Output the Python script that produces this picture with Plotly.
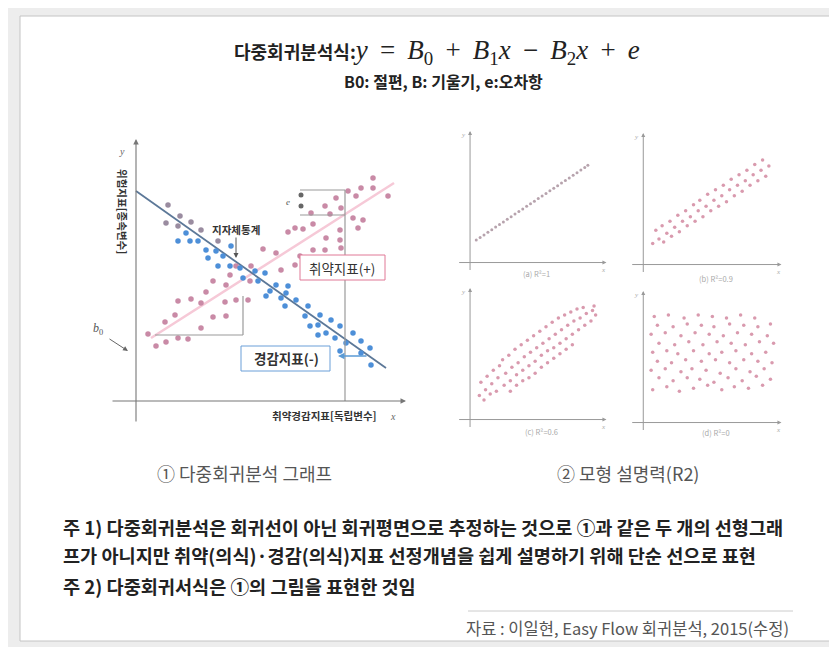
import plotly.graph_objects as go

W, H = 837, 647
def px(x): return x / W
def py(y): return 1 - y / H

KR = "Noto Sans CJK KR"
SERIF = "Liberation Serif"

# ---------------- Left chart data (units) ----------------
blue_x = [50, 42, 54, 62, 70, 80, 72, 87, 95, 82, 94, 104, 107, 119, 129, 122, 140, 134, 130, 150, 145,
          160, 152, 149, 172, 169, 184, 182, 174, 195, 204, 190, 182, 199, 217, 210, 225, 234, 204, 225, 235]
blue_y = [168, 160, 160, 160, 151, 150, 143, 145, 155, 135, 135, 133, 123, 130, 128, 120, 116, 110, 105, 108, 103,
          101, 115, 95, 95, 85, 86, 76, 75, 81, 75, 68, 66, 63, 68, 58, 60, 53, 50, 48, 36]
pink_x = [12, 20, 30, 42, 52, 29, 39, 65, 77, 90, 42, 55, 65, 89, 100, 112, 70, 77, 90, 94, 114, 100, 115, 127,
          140, 145, 159, 152, 164, 177, 189, 205, 204, 190, 167, 177, 159, 204, 222, 217, 227, 175, 194, 189,
          205, 200, 220, 212, 225, 237, 237, 252]
pink_y = [67, 55, 59, 63, 62, 79, 86, 73, 84, 85, 100, 102, 98, 99, 101, 101, 109, 120, 116, 126, 120, 135, 135, 152,
          148, 131, 136, 169, 145, 151, 151, 153, 161, 163, 172, 177, 173, 171, 173, 183, 181, 188, 187, 195,
          193, 203, 205, 210, 213, 213, 223, 205]
gray_x = [32, 44, 30, 42, 55, 65, 82]
gray_y = [196, 185, 178, 175, 179, 171, 160]
eps_x = [165, 165]
eps_y = [206, 195]
blue_line_x = [0, 250]
blue_line_y = [210, 33]
pink_line_x = [15, 258]
pink_line_y = [63, 218]

# ---------------- Right panels data ----------------
a_x = [0.4, 0.65, 0.9, 1.15, 1.4, 1.65, 1.9, 2.15, 2.4, 2.65, 2.9, 3.15, 3.4, 3.65, 3.9, 4.15, 4.4, 4.65,
       4.9, 5.15, 5.4, 5.65, 5.9, 6.15, 6.4, 6.65, 6.9, 7.15, 7.4, 7.6]
a_y = [1.50, 1.67, 1.85, 2.02, 2.19, 2.37, 2.54, 2.71, 2.89, 3.06, 3.24, 3.41, 3.58, 3.76, 3.93, 4.10, 4.28, 4.45,
       4.62, 4.80, 4.97, 5.14, 5.32, 5.49, 5.66, 5.84, 6.01, 6.19, 6.36, 6.50]

b_x = [0.6, 0.8, 1.0, 1.2, 1.3, 1.5, 1.7, 1.8, 2.0, 2.2, 2.3, 2.5, 2.7, 2.8, 3.0, 3.2, 3.3, 3.5, 3.6, 3.8, 4.0,
       4.1, 4.3, 4.5, 4.6, 4.8, 5.0, 5.1, 5.3, 5.5, 5.6, 5.8, 6.0, 6.1, 6.3, 6.5, 6.6, 6.8, 7.0, 7.1, 7.3, 7.5,
       7.6, 7.8, 8.0]
b_y = [1.4, 2.3, 1.7, 2.6, 1.5, 2.1, 2.9, 1.9, 2.5, 3.3, 2.2, 2.9, 3.6, 2.6, 3.2, 4.0, 2.9, 3.6, 4.3, 3.2, 3.9,
       4.7, 3.6, 4.3, 5.0, 3.9, 4.6, 5.3, 4.2, 5.0, 5.7, 4.6, 5.3, 6.0, 4.9, 5.6, 6.3, 5.3, 6.0, 6.7, 5.6, 6.3,
       7.0, 5.9, 6.6]

c_x = [0.6, 0.7, 1.0, 1.1, 0.9, 1.4, 1.5, 1.3, 1.8, 1.9, 1.7, 2.2, 2.3, 2.1, 2.6, 2.7, 2.5, 2.6,
       3.0, 3.1, 2.9, 3.0, 3.4, 3.5, 3.3, 3.4, 3.8, 3.9, 3.7, 3.8, 4.2, 4.3, 4.1, 4.2, 4.6, 4.7, 4.5, 4.6,
       5.0, 5.1, 4.9, 5.0, 5.4, 5.5, 5.3, 5.4, 5.8, 5.9, 5.7, 5.8, 6.2, 6.3, 6.1, 6.2, 6.6, 6.7, 6.5, 6.6,
       7.0, 7.1, 6.9, 7.4, 7.5, 7.3, 7.8, 7.9, 8.1, 8.0]
c_y = [1.6, 2.5, 2.0, 2.9, 1.3, 2.4, 3.3, 1.7, 2.8, 3.6, 1.9, 2.3, 3.1, 4.0, 2.6, 3.5, 4.3, 1.9,
       3.0, 3.8, 4.7, 2.3, 3.3, 4.2, 5.0, 2.6, 3.6, 4.5, 5.3, 2.8, 3.9, 4.8, 5.6, 3.1, 4.3, 5.1, 5.9, 3.5,
       4.6, 5.4, 6.2, 3.8, 4.8, 5.7, 6.5, 4.1, 5.1, 6.0, 6.8, 4.4, 5.4, 6.3, 7.0, 4.7, 5.7, 6.6, 7.2, 5.0,
       6.0, 6.8, 7.4, 6.3, 7.1, 7.5, 6.6, 7.3, 7.0, 7.6]

d_x = [0.6, 1.5, 2.3, 3.2, 4.1, 5.0, 5.8, 6.7, 7.6,
       1.0, 1.9, 2.8, 3.6, 4.5, 5.4, 6.3, 7.2, 8.1,
       0.5, 1.4, 2.4, 3.1, 4.0, 4.9, 5.9, 6.8, 7.7,
       0.9, 1.8, 2.7, 3.7, 4.6, 5.5, 6.4, 7.3, 8.2,
       0.6, 1.5, 2.2, 3.2, 4.2, 5.0, 5.9, 6.9, 7.8,
       1.0, 2.0, 2.9, 3.8, 4.7, 5.6, 6.5, 7.4, 8.3,
       0.5, 1.4, 2.4, 3.3, 4.2, 5.1, 6.0, 6.9, 7.9,
       0.9, 1.9, 2.8, 3.7, 4.5, 5.5, 6.4, 7.3, 8.1,
       0.7, 1.6, 2.6, 3.5, 4.4, 5.3, 6.2, 7.1]
d_y = [2.2, 2.4, 2.1, 2.3, 2.5, 2.2, 2.4, 2.3, 2.5,
       3.0, 2.8, 3.0, 2.9, 2.7, 3.0, 2.8, 3.1, 2.9,
       3.5, 3.6, 3.4, 3.6, 3.5, 3.3, 3.6, 3.4, 3.6,
       4.1, 4.0, 4.2, 4.1, 4.2, 4.0, 4.2, 4.1, 4.0,
       4.7, 4.8, 4.6, 4.8, 4.6, 4.7, 4.8, 4.6, 4.7,
       5.3, 5.2, 5.4, 5.2, 5.4, 5.3, 5.2, 5.4, 5.3,
       5.9, 6.0, 5.8, 6.0, 5.9, 5.8, 6.0, 5.9, 5.8,
       6.5, 6.4, 6.6, 6.5, 6.4, 6.6, 6.5, 6.4, 6.6,
       7.1, 7.2, 7.0, 7.2, 7.1, 7.0, 7.2, 7.0]

panel_labels = ["(a) R²=1", "(b) R²=0.9", "(c) R²=0.6", "(d) R²=0"]

title_kr = "다중회귀분석식:"
subtitle = "B0: 절편, B: 기울기, e:오차항"
caption1 = "① 다중회귀분석 그래프"
caption2 = "② 모형 설명력(R2)"
note1a = "주 1) 다중회귀분석은 회귀선이 아닌 회귀평면으로 추정하는 것으로 ①과 같은 두 개의 선형그래"
note1b = "프가 아니지만 취약(의식)·경감(의식)지표 선정개념을 쉽게 설명하기 위해 단순 선으로 표현"
note2 = "주 2) 다중회귀서식은 ①의 그림을 표현한 것임"
source = "자료 : 이일현, Easy Flow 회귀분석, 2015(수정)"

fig = go.Figure()

# ---------------- Left chart traces ----------------
fig.add_trace(go.Scatter(x=pink_line_x, y=pink_line_y, mode="lines",
                         line=dict(color="#f6c9d7", width=2.5), xaxis="x", yaxis="y"))
fig.add_trace(go.Scatter(x=blue_line_x, y=blue_line_y, mode="lines",
                         line=dict(color="#5c7898", width=1.8), xaxis="x", yaxis="y"))
fig.add_trace(go.Scatter(x=pink_x, y=pink_y, mode="markers",
                         marker=dict(color="#c98aa6", size=5.5), xaxis="x", yaxis="y"))
fig.add_trace(go.Scatter(x=gray_x, y=gray_y, mode="markers",
                         marker=dict(color="#9a8ca0", size=5.5), xaxis="x", yaxis="y"))
fig.add_trace(go.Scatter(x=blue_x, y=blue_y, mode="markers",
                         marker=dict(color="#4d8fd8", size=5.5), xaxis="x", yaxis="y"))
fig.add_trace(go.Scatter(x=eps_x, y=eps_y, mode="markers",
                         marker=dict(color="#666666", size=5), xaxis="x", yaxis="y"))

# ---------------- Right panels traces ----------------
fig.add_trace(go.Scatter(x=a_x, y=a_y, mode="markers", marker=dict(color="#b7a3ad", size=3),
                         xaxis="x2", yaxis="y2"))
fig.add_trace(go.Scatter(x=b_x, y=b_y, mode="markers", marker=dict(color="#d99aae", size=3.5),
                         xaxis="x3", yaxis="y3"))
fig.add_trace(go.Scatter(x=c_x, y=c_y, mode="markers", marker=dict(color="#d99aae", size=3.5),
                         xaxis="x4", yaxis="y4"))
fig.add_trace(go.Scatter(x=d_x, y=d_y, mode="markers", marker=dict(color="#d99aae", size=3.5),
                         xaxis="x5", yaxis="y5"))

hidden = dict(showgrid=False, zeroline=False, showticklabels=False, showline=False, ticks="",
              fixedrange=True)

layout = dict(
    width=W, height=H, margin=dict(l=0, r=0, t=0, b=0),
    showlegend=False, paper_bgcolor="#ededed", plot_bgcolor="rgba(0,0,0,0)",
    xaxis=dict(domain=[px(75), px(400)], range=[-53, 272], **hidden),
    yaxis=dict(domain=[py(420), py(125)], range=[-27, 268], **hidden),
)
panels = [  # (x-domain px, y-domain py)
    ((445, 600), (120, 265)),
    ((618, 775), (122, 267)),
    ((445, 600), (277, 422)),
    ((618, 775), (280, 425)),
]
for i, (xd, yd) in enumerate(panels, start=2):
    layout[f"xaxis{i}"] = dict(domain=[px(xd[0]), px(xd[1])], range=[-1.1, 8.9], anchor=f"y{i}", **hidden)
    layout[f"yaxis{i}"] = dict(domain=[py(yd[1]), py(yd[0])], range=[-0.7, 9.0], anchor=f"x{i}", **hidden)
fig.update_layout(**layout)

shapes = []
annos = []

# frame
shapes.append(dict(type="rect", xref="paper", yref="paper", x0=px(12), x1=px(826), y0=py(633), y1=py(8),
                   fillcolor="white", line=dict(color="#c4c4c4", width=1), layer="below"))

def arrow(x, y, ax, ay, xr, yr, color="#777", width=1.1, head=2, size=1):
    annos.append(dict(x=x, y=y, ax=ax, ay=ay, xref=xr, yref=yr, axref=xr, ayref=yr, text="",
                      showarrow=True, arrowhead=head, arrowsize=size, arrowwidth=width, arrowcolor=color))

def seg(x0, y0, x1, y1, xr="x", yr="y", color="#9a9a9a", width=1.2):
    shapes.append(dict(type="line", xref=xr, yref=yr, x0=x0, y0=y0, x1=x1, y1=y1,
                       line=dict(color=color, width=width)))

def text(t, x, y, size, color="#333", xr="paper", yr="paper", xanchor="center", family=KR, angle=0,
         weight=None):
    f = dict(size=size, color=color, family=family)
    if weight:
        f["weight"] = weight
    annos.append(dict(text=t, x=x, y=y, xref=xr, yref=yr, showarrow=False, xanchor=xanchor,
                      yanchor="middle", font=f, textangle=angle))

# left chart axes
arrow(0, 262, 0, -22, "x", "y")
arrow(270, 0, -25, 0, "x", "y")
# bracket / helper lines
seg(19, 66, 107, 66)
seg(107, 66, 107, 105)
seg(164, 211, 209, 211)
seg(164, 186, 209, 186)
seg(209, 211, 209, 0)
# boxes
shapes.append(dict(type="rect", xref="x", yref="y", x0=164, x1=249, y0=121, y1=146,
                   fillcolor="white", line=dict(color="#e07896", width=1), layer="above"))
shapes.append(dict(type="rect", xref="x", yref="y", x0=105, x1=194, y0=30, y1=55,
                   fillcolor="white", line=dict(color="#6a9fd8", width=1), layer="above"))
text("취약지표(+)", 206, 133, 13.5, xr="x", yr="y")
text("경감지표(-)", 150, 43, 13.5, xr="x", yr="y", weight="bold")
arrow(202, 45, 232, 45, "x", "y", color="#5b9bd5", width=1.3)
text("지자체통계", 100, 172, 10.5, xr="x", yr="y", weight="bold")
arrow(100, 143, 100, 165, "x", "y", color="#555", width=1)
arrow(-8, 50, -28, 63, "x", "y", color="#666", width=1)
text("<i>b</i><sub>0</sub>", -38, 72, 12, color="#555", xr="x", yr="y", family=SERIF)
text("<i>e</i>", 152, 199, 9, color="#555", xr="x", yr="y", family=SERIF)
text("<i>y</i>", -14, 250, 10, color="#666", xr="x", yr="y", family=SERIF)
text("위험지표[종속변수]", -13, 190, 10.5, xr="x", yr="y", angle=90, weight="bold")
text("취약경감지표[독립변수]", 188, -14, 10.5, xr="x", yr="y", weight="bold")
text("<i>x</i>", 257, -15, 10, color="#666", xr="x", yr="y", family=SERIF)

# right panels axes and labels
label_pos = [(528, 265), (708, 270), (533, 423), (708, 425)]
for i in range(2, 6):
    xr, yr = f"x{i}", f"y{i}"
    arrow(0, 8.8, 0, -0.6, xr, yr, color="#999", width=1, size=0.8)
    arrow(8.8, 0, -0.8, 0, xr, yr, color="#999", width=1, size=0.8)
    text("<i>y</i>", -0.45, 8.5, 7, color="#aaa", xr=xr, yr=yr, family=SERIF)
    text("<i>x</i>", 8.6, -0.5, 7, color="#aaa", xr=xr, yr=yr, family=SERIF)
    lx, ly = label_pos[i - 2]
    text(panel_labels[i - 2], px(lx), py(ly), 7.5, color="#aaaaaa")

# ---------------- Header (one annotation: Korean label + formula) ----------------
ts = "\u2009"
formula = (f"<i>y</i>{ts} = {ts}<i>B</i><sub>0</sub>{ts} + {ts}<i>B</i><sub>1</sub><i>x</i>{ts} − {ts}"
           f"<i>B</i><sub>2</sub><i>x</i>{ts} + {ts}<i>e</i>")
header = (f'<span style="font-family:\'{KR}\';font-size:18px;font-weight:bold">{title_kr}</span>'
          f'{formula}')
annos.append(dict(text=header, x=px(429), y=py(44), xref="paper", yref="paper", showarrow=False,
                  xanchor="center", yanchor="middle", font=dict(size=27, color="#222", family=SERIF)))
text(subtitle, px(435), py(73), 16, color="#222", weight="bold")

# ---------------- Captions & notes ----------------
text(caption1, px(236), py(465), 18, color="#555")
text(caption2, px(620), py(465), 18, color="#555")
text(note1a, px(53), py(518), 18.6, color="#222", xanchor="left", weight="bold")
text(note1b, px(53), py(546), 18.6, color="#222", xanchor="left", weight="bold")
text(note2, px(53), py(577), 18.6, color="#222", xanchor="left", weight="bold")
shapes.append(dict(type="line", xref="paper", yref="paper", x0=px(460), x1=px(785), y0=py(603), y1=py(603),
                   line=dict(color="#cccccc", width=1)))
annos.append(dict(text=source, x=px(783), y=py(620), xref="paper", yref="paper", showarrow=False,
                  xanchor="right", yanchor="middle", font=dict(size=16.5, color="#555", family=KR)))

fig.update_layout(shapes=shapes, annotations=annos)
fig.write_html("out.html")
